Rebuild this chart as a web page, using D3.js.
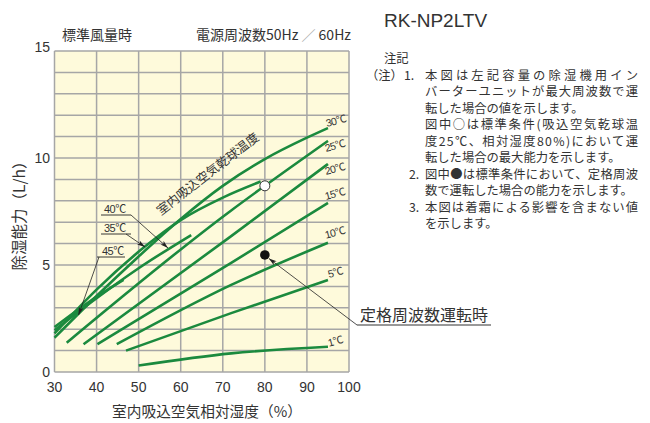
<!DOCTYPE html>
<html><head><meta charset="utf-8">
<script src="https://cdn.jsdelivr.net/npm/d3@7"></script>
<style>
html,body{margin:0;padding:0;background:#fff;}
svg{display:block;}
text{font-family:"Liberation Sans","Noto Sans CJK JP",sans-serif;fill:#333;}
.jp{font-family:"Noto Sans CJK JP",sans-serif;}
</style></head><body>
<script>
// ---- data ----
const xTicks = [30,40,50,60,70,80,90,100];
const yTicks = [0,5,10,15];
const tempLabels = ["1℃","5℃","10℃","15℃","20℃","25℃","30℃","35℃","40℃","45℃"];
const t1  = [[50,0.3],[72,0.87],[95,1.18]];
const t5  = [[47,1.0],[72,2.75],[95,4.3]];
const t10 = [[44.8,1.3],[72,4.07],[95,6.04]];
const t15 = [[40.2,1.3],[72,5.1],[95,7.9]];
const t20 = [[36.9,1.3],[72,6.35],[95,9.72]];
const t25 = [[32.9,1.37],[72,7.55],[80,8.7],[95,10.8]];
const t30 = [[30,1.6],[40,3.55],[50,5.4],[60,7.15],[70,8.7],[80,9.95],[90,10.95],[95,11.4]];
const t35 = [[30,1.8],[40,3.85],[51.5,5.86],[60,7.1],[70,8.15],[79,8.9]];
const t40 = [[30,1.95],[40,3.45],[50,4.85],[62.5,6.4]];
const t45 = [[30,2.1],[38,3.25],[46.4,4.3]];
const seriesData = [t1,t5,t10,t15,t20,t25,t30,t35,t40,t45];
const maxPoint = [80, 8.7];     // 標準条件 最大能力 (○)
const ratedPoint = [80, 5.47];  // 定格周波数運転時 (●)

// ---- layout ----
const W=650,H=423;
const svg = d3.select("body").append("svg").attr("width",W).attr("height",H);
const x = d3.scaleLinear().domain([30,100]).range([54.5,349]);
const y = d3.scaleLinear().domain([0,15]).range([372,51]);
const green = "#1b8a3e";

svg.append("defs").append("marker").attr("id","arr")
  .attr("viewBox","0 0 8 6").attr("refX",8).attr("refY",3)
  .attr("markerWidth",8).attr("markerHeight",6).attr("markerUnits","userSpaceOnUse")
  .attr("orient","auto")
  .append("path").attr("d","M0,0.6 L8,3 L0,5.4 L2,3 Z").attr("fill","#222");

// background
svg.append("rect").attr("x",x(30)).attr("y",y(15)).attr("width",x(100)-x(30)).attr("height",y(0)-y(15))
  .attr("fill","#fefadb");
// grid
const g = svg.append("g").attr("stroke","#a6a6a6").attr("stroke-width",1.5);
g.selectAll(".gx").data(d3.range(30,101,10)).join("line")
  .attr("x1",d=>x(d)).attr("x2",d=>x(d)).attr("y1",y(0)).attr("y2",y(15));
g.selectAll(".gy").data(d3.range(0,16,1)).join("line")
  .attr("y1",d=>y(d)).attr("y2",d=>y(d)).attr("x1",x(30)).attr("x2",x(100));

// ticks
svg.append("g").selectAll("text").data(xTicks).join("text")
  .attr("x",d=>x(d)).attr("y",392).attr("text-anchor","middle")
  .attr("font-size",14).text(d=>d);
svg.append("g").selectAll("text").data(yTicks).join("text")
  .attr("x",50).attr("y",d=>y(d)-(d===15?4:0)).attr("dy","0.35em").attr("text-anchor","end")
  .attr("font-size",14).text(d=>d);

// axis titles
svg.append("text").attr("class","jp").attr("x",207).attr("y",417).attr("text-anchor","middle")
  .attr("font-size",14.7).text("室内吸込空気相対湿度（%）");
svg.append("text").attr("class","jp").attr("transform","translate(25,212) rotate(-90)")
  .attr("text-anchor","middle").attr("font-size",15.5).text("除湿能力（L/h）");
svg.append("text").attr("class","jp").attr("x",62).attr("y",40).attr("font-size",14).text("標準風量時");
const topR = svg.append("text").attr("class","jp").attr("x",351).attr("y",40).attr("text-anchor","end").attr("font-size",14);
topR.append("tspan").text("電源周波数50Hz ");
topR.append("tspan").style("fill","#aaa").text("／");
topR.append("tspan").text(" 60Hz");

// lines
const line = d3.line().x(d=>x(d[0])).y(d=>y(d[1])).curve(d3.curveMonotoneX);
svg.append("g").selectAll("path").data(seriesData).join("path")
  .attr("d",line).attr("fill","none").attr("stroke",green).attr("stroke-width",2.6).attr("stroke-linecap","butt");

// end labels (1..30℃)
const endOffsets = [[1,0],[1,-2],[-2,-4],[-2,-3],[-2,11],[-2,11],[-1,-1]];
for(let i=0;i<7;i++){
  const s = seriesData[i], p = s[s.length-1];
  const ex = x(p[0])+endOffsets[i][0], ey = y(p[1])+endOffsets[i][1];
  svg.append("text").attr("transform",`translate(${ex},${ey}) rotate(-15)`)
    .attr("font-size",10.5).attr("letter-spacing",-0.5).text(tempLabels[i]);
}

// left labels with arrows (35,40,45℃)
function callout(label, tx, ty, ux1, ux2, uy, ax1, ay1, ax2, ay2){
  svg.append("text").attr("x",tx).attr("y",ty).attr("font-size",11).attr("letter-spacing",-0.5).text(label);
  svg.append("line").attr("x1",ux1).attr("x2",ux2).attr("y1",uy).attr("y2",uy).attr("stroke","#222").attr("stroke-width",0.9);
  svg.append("line").attr("x1",ax1).attr("y1",ay1).attr("x2",ax2).attr("y2",ay2)
    .attr("stroke","#222").attr("stroke-width",0.8).attr("marker-end","url(#arr)");
}
callout(tempLabels[8],104,213,101,131,215,131,215,168,248);
callout(tempLabels[7],104,232,101,131,234,126,234,145,247);
callout(tempLabels[9],102,255,97,125,257,99,257,78.5,315);

// rotated series title
svg.append("text").attr("class","jp").attr("transform","translate(207,173) rotate(-37.8)")
  .attr("text-anchor","middle").attr("dominant-baseline","central").attr("font-size",12.5).text("室内吸込空気乾球温度");

// points
svg.append("circle").attr("cx",x(maxPoint[0])).attr("cy",y(maxPoint[1])).attr("r",5)
  .attr("fill","#fff").attr("stroke","#333").attr("stroke-width",1);
svg.append("circle").attr("cx",x(ratedPoint[0])).attr("cy",y(ratedPoint[1])).attr("r",4.8).attr("fill","#111");

// rated callout
svg.append("text").attr("class","jp").attr("x",360).attr("y",321).attr("font-size",16).text("定格周波数運転時");
svg.append("line").attr("x1",357).attr("x2",491).attr("y1",325).attr("y2",325).attr("stroke","#333").attr("stroke-width",1.2);
svg.append("line").attr("x1",357).attr("y1",325).attr("x2",x(ratedPoint[0])+4).attr("y2",y(ratedPoint[1])+3.5)
  .attr("stroke","#222").attr("stroke-width",0.8).attr("marker-end","url(#arr)");

// notes
svg.append("text").attr("x",384).attr("y",27).attr("font-size",19).text("RK-NP2LTV");
const nfs = 12.3;
svg.append("text").attr("class","jp").attr("x",384).attr("y",63).attr("font-size",nfs).text("注記");
const R = 638;
const notes = [
  {x:366, t:"（注）", just:false, base:0},
  {x:404, t:"1.", just:false, base:0},
  {x:425, t:"本図は左記容量の除湿機用イン", just:true, base:0},
  {x:425, t:"バーターユニットが最大周波数で運", just:true, base:1},
  {x:425, t:"転した場合の値を示します。", just:false, base:2},
  {x:425, t:"図中○は標準条件(吸込空気乾球温", just:true, base:3},
  {x:425, t:"度25℃、相対湿度80%)において運", just:true, base:4},
  {x:425, t:"転した場合の最大能力を示します。", just:false, base:5},
  {x:409, t:"2.", just:false, base:6},
  {x:425, t:"図中●は標準条件において、定格周波", just:true, base:6},
  {x:425, t:"数で運転した場合の能力を示します。", just:false, base:7},
  {x:409, t:"3.", just:false, base:8},
  {x:425, t:"本図は着霜による影響を含まない値", just:true, base:8},
  {x:425, t:"を示します。", just:false, base:9}
];
notes.forEach(n=>{
  const t = svg.append("text").attr("class","jp").attr("x",n.x).attr("y",79.5+16.5*n.base)
    .attr("font-size",nfs).text(n.t);
  if(n.just){ t.attr("textLength",R-n.x).attr("lengthAdjust","spacing"); }
});
</script>
</body></html>
